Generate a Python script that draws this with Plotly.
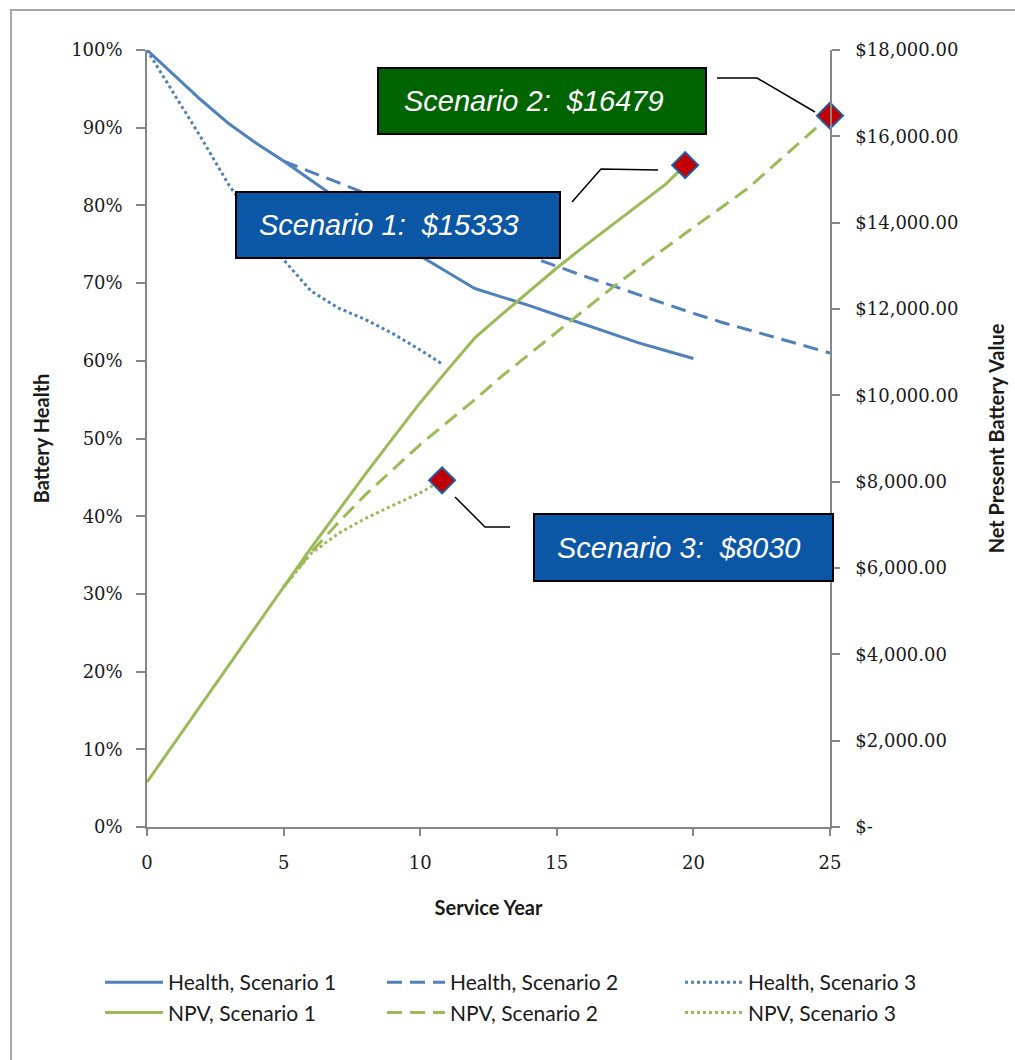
import plotly.graph_objects as go

# ---- data -------------------------------------------------------------
# Battery health (%) by service year
health_years_1 = list(range(0, 21))
health_1 = [100, 96.7, 93.5, 90.5, 88.0, 85.7, 83.3, 80.8, 78.3, 75.9, 73.5,
            71.4, 69.3, 68.2, 67.1, 65.9, 64.7, 63.5, 62.3, 61.3, 60.3]

health_years_2 = list(range(5, 26))
health_2 = [85.7, 84.3, 82.9, 81.5, 80.1, 78.7, 77.3, 76.0, 74.7, 73.4, 72.2,
            70.9, 69.7, 68.5, 67.3, 66.1, 65.0, 64.0, 63.0, 62.0, 61.0]

health_years_3 = [0, 1, 2, 3, 4, 5, 6, 7, 8, 9, 10, 10.8]
health_3 = [100, 94.3, 88.6, 82.6, 77.8, 73.0, 69.0, 66.8, 65.3, 63.5, 61.4, 59.6]

# Net present battery value ($) by service year
npv_years_1 = [0, 1, 2, 3, 4, 5, 6, 7, 8, 9, 10, 11, 12, 13, 14, 15, 16, 17, 18, 19, 19.7]
npv_1 = [1040, 1950, 2860, 3760, 4660, 5560, 6460, 7330, 8180, 9010, 9830,
         10590, 11330, 11880, 12420, 12950, 13450, 13930, 14420, 14900, 15333]

npv_years_2 = list(range(5, 26))
npv_2 = [5560, 6360, 7050, 7700, 8280, 8860, 9380, 9900, 10450, 10960, 11470,
         11980, 12480, 12960, 13430, 13890, 14340, 14800, 15360, 15920, 16479]

npv_years_3 = [5, 6, 7, 8, 9, 10, 10.8]
npv_3 = [5560, 6330, 6800, 7150, 7450, 7740, 8030]

# Final value of each scenario (callout labels)
final_years = [19.7, 25, 10.8]
final_values = [15333, 16479, 8030]
final_labels = ["Scenario 1:  $15333", "Scenario 2:  $16479", "Scenario 3:  $8030"]

x_ticks = [0, 5, 10, 15, 20, 25]
npv_ticks = [0, 2000, 4000, 6000, 8000, 10000, 12000, 14000, 16000, 18000]
npv_tick_text = ["$-"] + ["${:,.2f}".format(v) for v in npv_ticks[1:]]

# ---- styling ----------------------------------------------------------
W, H = 1015, 1060
ML, MR, MT, MB = 147, 185, 50, 233
PW, PH = W - ML - MR, H - MT - MB

BLUE = "#4F81BD"
GREEN = "#9BBB59"
AXIS = "#868686"
TXT = "#1a1a1a"
DASH = "15px,8px"
TICK_FONT = dict(family="DejaVu Serif", size=18, color=TXT)
TITLE_FONT = dict(family="Lato", size=20, color=TXT, weight="bold")
LEG_FONT = dict(family="Lato", size=21, color=TXT)


def px(xp):
    """Horizontal pixel -> paper fraction."""
    return (xp - ML) / PW


def py(yp):
    """Vertical pixel (from top) -> paper fraction."""
    return (H - MB - yp) / PH


fig = go.Figure()

series = [
    ("Health, Scenario 1", health_years_1, health_1, BLUE, "solid", "y", "legend"),
    ("Health, Scenario 2", health_years_2, health_2, BLUE, DASH, "y", "legend2"),
    ("Health, Scenario 3", health_years_3, health_3, BLUE, "dot", "y", "legend3"),
    ("NPV, Scenario 1", npv_years_1, npv_1, GREEN, "solid", "y2", "legend"),
    ("NPV, Scenario 2", npv_years_2, npv_2, GREEN, DASH, "y2", "legend2"),
    ("NPV, Scenario 3", npv_years_3, npv_3, GREEN, "dot", "y2", "legend3"),
]
for name, xs, ys, color, dash, yaxis, leg in series:
    fig.add_trace(go.Scatter(
        x=xs, y=ys, name=name, mode="lines", yaxis=yaxis, legend=leg,
        line=dict(color=color, width=3, dash=dash),
        hoverinfo="skip",
    ))

# end-point markers
fig.add_trace(go.Scatter(
    x=final_years, y=final_values, yaxis="y2", mode="markers", showlegend=False,
    cliponaxis=False,
    marker=dict(symbol="diamond", size=20, color="#C00000",
                line=dict(color="#1F5FA8", width=2)),
    hoverinfo="skip",
))

# ---- callouts ---------------------------------------------------------
# box rectangle (left, top, right, bottom) in pixels, fill colour, text left edge,
# leader line points
callouts = [
    dict(box=(236, 192, 560, 258), fill="#0B56A5", tx=257,
         leader=[(572, 202), (601, 169), (658, 170)]),
    dict(box=(378, 68, 706, 134), fill="#006400", tx=402,
         leader=[(717, 78), (757, 78), (815, 112)]),
    dict(box=(534, 514, 833, 581), fill="#0B56A5", tx=555,
         leader=[(455, 497), (485, 527), (510, 527)]),
]
shapes = []
annotations = []
for c, label in zip(callouts, final_labels):
    l, t, r, b = c["box"]
    shapes.append(dict(type="rect", xref="paper", yref="paper",
                       x0=px(l), x1=px(r), y0=py(b), y1=py(t),
                       fillcolor=c["fill"], line=dict(color="#000000", width=2),
                       layer="above"))
    pts = c["leader"]
    path = "M {} {}".format(px(pts[0][0]), py(pts[0][1]))
    for xx, yy in pts[1:]:
        path += " L {} {}".format(px(xx), py(yy))
    shapes.append(dict(type="path", xref="paper", yref="paper", path=path,
                       line=dict(color="#000000", width=1.5), layer="above"))
    annotations.append(dict(
        xref="paper", yref="paper", x=px(c["tx"]), y=py((t + b) / 2),
        xanchor="left", yanchor="middle", showarrow=False,
        text=label.replace("  ", "\u00a0\u00a0"),
        font=dict(family="Liberation Sans", size=29, color="#ffffff", style="italic"),
    ))

# outer chart border
shapes.append(dict(type="rect", xref="paper", yref="paper",
                   x0=px(11), x1=px(1018), y0=py(1063), y1=py(10),
                   line=dict(color="#A6A6A6", width=2), fillcolor="rgba(0,0,0,0)",
                   layer="below"))

axis_common = dict(
    showgrid=False, zeroline=False, showline=True, linecolor=AXIS, linewidth=1.5,
    ticks="outside", tickcolor=AXIS, tickwidth=1.5, tickfont=TICK_FONT,
)


def legend_at(left, top):
    return dict(orientation="v", x=px(left), y=py(top), xanchor="left", yanchor="top",
                font=LEG_FONT, bgcolor="rgba(0,0,0,0)", itemwidth=58,
                tracegroupgap=0)


fig.update_layout(
    width=W, height=H,
    margin=dict(l=ML, r=MR, t=MT, b=MB, autoexpand=False),
    paper_bgcolor="#ffffff", plot_bgcolor="#ffffff",
    xaxis=dict(range=[0, 25], tickvals=x_ticks, ticklen=7, ticklabelstandoff=12,
               title=dict(text="Service Year", font=TITLE_FONT, standoff=29),
               **axis_common),
    yaxis=dict(range=[0, 100], dtick=10, ticksuffix="%", ticklen=9, ticklabelstandoff=10,
               title=dict(text="Battery Health", font=TITLE_FONT, standoff=16),
               **axis_common),
    yaxis2=dict(range=[0, 18000], overlaying="y", side="right", tickvals=npv_ticks,
                ticktext=npv_tick_text, ticklen=8, ticklabelstandoff=12,
                title=dict(text="Net Present Battery Value", font=TITLE_FONT, standoff=33),
                **axis_common),
    legend=legend_at(100, 962),
    legend2=legend_at(382, 962),
    legend3=legend_at(680, 962),
    shapes=shapes,
    annotations=annotations,
    showlegend=True,
)

fig.write_html("out.html")
